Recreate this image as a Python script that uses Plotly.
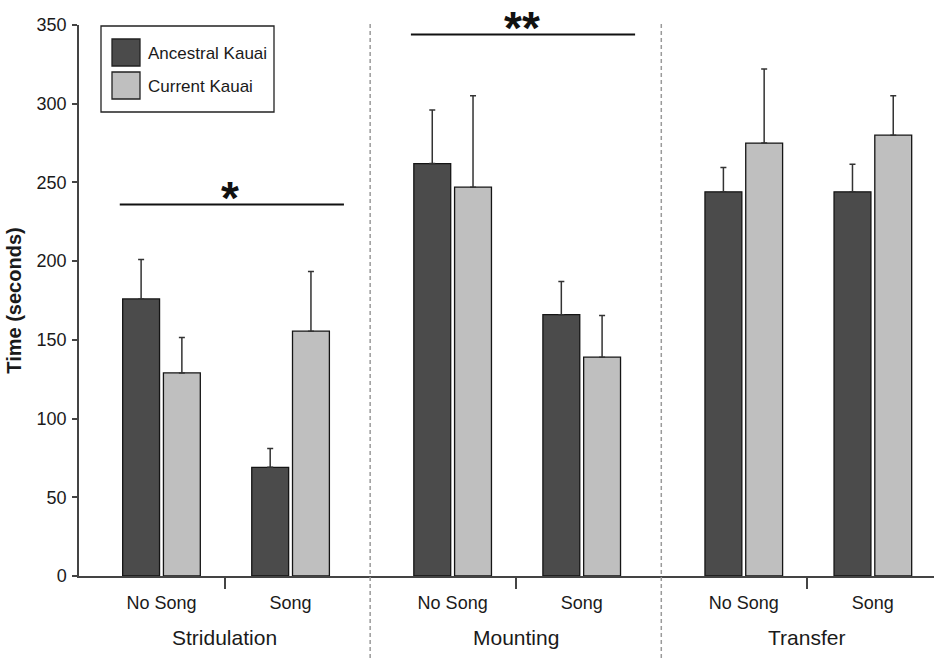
import plotly.graph_objects as go

# ---------------- data ----------------
panels = ["Stridulation", "Mounting", "Transfer"]
conditions = ["No Song", "Song"]
series_names = ["Ancestral Kauai", "Current Kauai"]

# order: Strid-NoSong, Strid-Song, Mount-NoSong, Mount-Song, Trans-NoSong, Trans-Song
ancestral = [176, 69, 262, 166, 244, 244]
ancestral_se = [25, 12, 34, 21, 15.5, 17.5]
current = [129, 155.5, 247, 139, 275, 280]
current_se = [22.5, 38, 58, 26.5, 47, 25]

sig_panels = ["Stridulation", "Mounting"]
sig_labels = ["*", "**"]
sig_heights = [236, 344]

y_ticks = [0, 50, 100, 150, 200, 250, 300, 350]

# ---------------- layout constants ----------------
W, H = 934, 658
ML, MR, MT, MB = 79, 0, 25, 82
PW, PH = W - ML - MR, H - MT - MB
PANEL_W = 3.0
COND_OFFSET = [0.85, 2.18]
X_RANGE = [0, 8.81]

def px_x(px):
    return (px - ML) / PW

def px_y(py):
    return (H - MB - py) / PH

# category positions computed from panel/condition indices
xpos, xlabels = [], []
for pi, p in enumerate(panels):
    for ci, c in enumerate(conditions):
        xpos.append(pi * PANEL_W + COND_OFFSET[ci])
        xlabels.append(c)

DARK = "#4b4b4b"
LIGHT = "#bfbfbf"
OUTLINE = "#151515"

fig = go.Figure()
fig.add_bar(
    x=xpos, y=ancestral, name=series_names[0], width=0.38, offset=-0.40,
    marker=dict(color=DARK, line=dict(color=OUTLINE, width=1.3)),
    error_y=dict(type="data", symmetric=False, array=ancestral_se,
                 arrayminus=[0] * len(ancestral), color="#333333",
                 thickness=1.5, width=3),
    showlegend=False,
)
fig.add_bar(
    x=xpos, y=current, name=series_names[1], width=0.38, offset=0.02,
    marker=dict(color=LIGHT, line=dict(color=OUTLINE, width=1.3)),
    error_y=dict(type="data", symmetric=False, array=current_se,
                 arrayminus=[0] * len(current), color="#333333",
                 thickness=1.5, width=3),
    showlegend=False,
)

shapes = []
annotations = []

# dashed dividers between panels
for pi in range(1, len(panels)):
    shapes.append(dict(type="line", xref="x", yref="paper",
                       x0=pi * PANEL_W, x1=pi * PANEL_W,
                       y0=px_y(H), y1=px_y(24),
                       line=dict(color="#9a9a9a", width=1.5, dash="4px,3px")))

# significance bars
for name, lab, h in zip(sig_panels, sig_labels, sig_heights):
    pi = panels.index(name)
    shapes.append(dict(type="line", xref="x", yref="y",
                       x0=pi * PANEL_W + 0.42, x1=pi * PANEL_W + 2.73,
                       y0=h, y1=h, line=dict(color="#111111", width=2)))
    annotations.append(dict(text="<b>" + lab + "</b>", xref="x", yref="y",
                            x=pi * PANEL_W + 1.56, y=h, yanchor="middle",
                            yshift=6, showarrow=False,
                            font=dict(size=46, color="#111111",
                                      family="Liberation Sans, Arial")))

# panel titles
for pi, p in enumerate(panels):
    annotations.append(dict(text=p, xref="x", yref="paper",
                            x=pi * PANEL_W + PANEL_W / 2, y=px_y(637),
                            yanchor="middle", showarrow=False,
                            font=dict(size=21, color="#1a1a1a")))

# custom legend box
shapes.append(dict(type="rect", xref="paper", yref="paper",
                   x0=px_x(101), x1=px_x(274), y0=px_y(112), y1=px_y(26),
                   line=dict(color="#222222", width=1.3), fillcolor="white"))
for i, (nm, col) in enumerate(zip(series_names, [DARK, LIGHT])):
    top = 39 + i * 33
    shapes.append(dict(type="rect", xref="paper", yref="paper",
                       x0=px_x(112), x1=px_x(140), y0=px_y(top + 27), y1=px_y(top),
                       line=dict(color="#222222", width=1.3), fillcolor=col))
    annotations.append(dict(text=nm, xref="paper", yref="paper",
                            x=px_x(146), y=px_y(top + 14), xanchor="left",
                            yanchor="middle", showarrow=False,
                            font=dict(size=17, color="#1a1a1a")))

fig.update_layout(
    width=W, height=H,
    margin=dict(l=ML, r=MR, t=MT, b=MB, autoexpand=False),
    paper_bgcolor="white", plot_bgcolor="white",
    font=dict(family="Liberation Sans, Arial, sans-serif", color="#1a1a1a"),
    barmode="overlay",
    showlegend=False,
    shapes=shapes,
    annotations=annotations,
    xaxis=dict(range=X_RANGE, tickvals=xpos, ticktext=xlabels, ticks="",
               automargin=False,
               showline=True, linecolor="#444444", linewidth=1.5,
               showgrid=False, zeroline=False, tickfont=dict(size=18),
               ticklabelstandoff=10,
               minor=dict(tickvals=[pi * PANEL_W + PANEL_W / 2 for pi in range(len(panels))],
                          ticks="outside", ticklen=11, tickwidth=1.5,
                          tickcolor="#444444", showgrid=False)),
    yaxis=dict(range=[0, 350], tickvals=y_ticks, ticks="outside", ticklen=5,
               automargin=False,
               tickwidth=1.5, tickcolor="#444444",
               showline=True, linecolor="#444444", linewidth=1.5,
               showgrid=False, zeroline=False, tickfont=dict(size=18),
               ticklabelstandoff=2,
               title=dict(text="<b>Time (seconds)</b>", font=dict(size=20),
                          standoff=10)),
)

fig.write_html(
    "out.html",
    config={"displayModeBar": False},
    post_script="document.body.style.margin='0';document.body.style.overflow='hidden';",
)
